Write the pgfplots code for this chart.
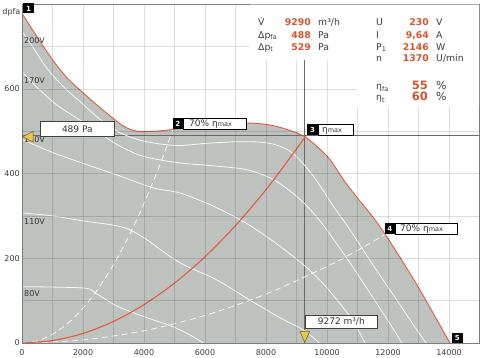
\documentclass[border=0pt]{standalone}
\usepackage{fontspec}
\setmainfont{DejaVu Sans}
\usepackage{pgfplots}
\pgfplotsset{compat=1.18}
\definecolor{fanfill}{RGB}{190,194,190}
\definecolor{fanred}{RGB}{226,92,62}
\definecolor{valred}{RGB}{214,84,44}
\definecolor{lbl}{RGB}{60,60,60}
\definecolor{framec}{RGB}{125,125,125}
\definecolor{markline}{RGB}{105,105,105}
\definecolor{yel}{RGB}{232,200,70}
\definecolor{yeld}{RGB}{110,95,30}
\begin{document}
\begin{tikzpicture}
\path[use as bounding box] (0pt,0pt) rectangle (500pt,357pt);
\begin{axis}[
 at={(22pt,14pt)}, anchor=south west, scale only axis, width=457.5pt, height=339pt,
 xmin=0,xmax=15000,ymin=0,ymax=800,
 axis on top,
 xtick={0,2000,...,14000}, minor xtick={1000,3000,...,13000},
 ytick={0,200,400,600}, minor ytick={100,300,500,700},
 grid=both, grid style={black, opacity=0.13, line width=0.5pt},
 minor grid style={black,opacity=0.13,line width=0.5pt},
 major tick length=0pt, minor tick length=0pt,
 axis line style={framec, line width=0.9pt},
 tick label style={font=\fontsize{8}{9}\selectfont, text=lbl},
 /pgf/number format/assume math mode=true,
 /pgf/number format/set thousands separator={},
 scaled x ticks=false,
 xticklabel style={yshift=-3pt},
 yticklabel style={xshift=1.3pt},
]
% envelope fill
\addplot[fill=fanfill, draw=none, smooth] coordinates {
(0,778)(300,744)(600,711)(1027,666)(1500,624)(2120,583)(2600,553)(2995,530)(3300,513)(3600,503)(3900,499)(4400,500)(4950,504)(5500,509)(6000,512)(7000,518)(7475,519)(8000,516)(8460,509)(9006,496)(9333,484)(9700,462)(10098,433)(10535,386)(11000,342)(11500,298)(11902,257)(12500,190)(13000,131)(13500,68)(14030,0)} \closedcycle;
% reference lines
\addplot[markline, line width=0.7pt] coordinates {(0,489)(15000,489)};
\addplot[markline, line width=0.7pt] coordinates {(9272,0)(9272,800)};
% speed curves
\addplot[white!94!gray, line width=0.8pt, smooth] coordinates {
(0,735)(300,705)(700,660)(1027,630)(1500,595)(1900,570)(2557,528)(3200,497)(3800,480)(4500,470)(5180,466)(6000,471)(7039,475)(7800,474)(8350,467)(8896,447)(9551,394)(10207,323)(10754,267)(11500,185)(12300,100)(13000,25)(13250,0)};
\addplot[white!94!gray, line width=0.8pt, smooth] coordinates {
(0,640)(500,603)(1000,570)(1354,551)(1900,526)(2500,497)(3200,465)(4000,440)(5180,425)(6300,418)(7367,409)(8240,386)(9006,346)(9551,307)(9990,267)(10700,195)(11500,108)(12200,30)(12450,0)};
\addplot[white!94!gray, line width=0.8pt, smooth] coordinates {
(0,480)(1027,449)(2120,421)(3213,394)(4306,366)(5180,354)(6272,323)(7148,291)(7695,267)(8500,226)(9334,178)(10000,130)(10754,62)(11250,0)};
\addplot[white!94!gray, line width=0.8pt, smooth] coordinates {
(0,307)(1000,300)(2010,288)(3000,278)(3541,267)(4088,244)(4700,212)(5290,185)(6383,149)(7500,100)(8500,58)(9223,31)(9750,0)};
\addplot[white!94!gray, line width=0.8pt, smooth] coordinates {
(0,133)(1000,132)(2120,129)(2450,116)(3150,86)(4088,60)(4900,40)(5508,19)(5950,0)};
% efficiency parabolas (dashed)
\addplot[white!94!gray, line width=0.8pt, dash pattern=on 6pt off 4pt, smooth] coordinates {
(0,0)(500,5.1)(1000,20.6)(1500,46.3)(2000,82.3)(2500,128.6)(3000,185.1)(3500,252)(4000,329)(4500,416.6)(4950,504)};
\addplot[white!94!gray, line width=0.8pt, dash pattern=on 6pt off 4pt, smooth] coordinates {
(0,0)(2000,7.2)(4000,28.9)(6000,65)(8000,115.6)(10000,180.7)(11000,218.6)(11902,256)};
% system curve
\addplot[fanred, line width=1.1pt, smooth] coordinates {
(0,0)(1000,5.7)(2000,22.6)(3000,50.9)(4000,90.5)(5000,141.4)(6000,203.5)(7000,277)(8000,361.9)(9000,458)(9290,488)};
% envelope line
\addplot[fanred, line width=0.9pt, smooth] coordinates {
(0,778)(300,744)(600,711)(1027,666)(1500,624)(2120,583)(2600,553)(2995,530)(3300,513)(3600,503)(3900,499)(4400,500)(4950,504)(5500,509)(6000,512)(7000,518)(7475,519)(8000,516)(8460,509)(9006,496)(9333,484)(9700,462)(10098,433)(10535,386)(11000,342)(11500,298)(11902,257)(12500,190)(13000,131)(13500,68)(14030,0)};
\end{axis}
% info box
\fill[white] (250pt,352.4pt) -- (479pt,352.4pt) -- (479pt,250pt) -- (357pt,250pt) -- (357pt,297pt) -- (250pt,297pt) -- cycle;
\begin{scope}[every node/.style={inner sep=0pt, font=\fontsize{9.3}{11}\selectfont}]
\node[anchor=base west, text=lbl] at (258pt,331pt) {\.{V}};
\node[anchor=base east, text=valred, font=\fontsize{9.3}{11}\selectfont\bfseries] at (311pt,331pt) {9290};
\node[anchor=base west, text=lbl] at (318pt,331pt) {m³/h};
\node[anchor=base west, text=lbl] at (258pt,319pt) {Δp\textsubscript{fa}};
\node[anchor=base east, text=valred, font=\fontsize{9.3}{11}\selectfont\bfseries] at (311pt,319pt) {488};
\node[anchor=base west, text=lbl] at (318pt,319pt) {Pa};
\node[anchor=base west, text=lbl] at (258pt,307pt) {Δp\textsubscript{t}};
\node[anchor=base east, text=valred, font=\fontsize{9.3}{11}\selectfont\bfseries] at (311pt,307pt) {529};
\node[anchor=base west, text=lbl] at (318pt,307pt) {Pa};
\node[anchor=base west, text=lbl] at (376pt,331pt) {U};
\node[anchor=base east, text=valred, font=\fontsize{9.3}{11}\selectfont\bfseries] at (429pt,331pt) {230};
\node[anchor=base west, text=lbl] at (436pt,331pt) {V};
\node[anchor=base west, text=lbl] at (376pt,319pt) {I};
\node[anchor=base east, text=valred, font=\fontsize{9.3}{11}\selectfont\bfseries] at (429pt,319pt) {9,64};
\node[anchor=base west, text=lbl] at (436pt,319pt) {A};
\node[anchor=base west, text=lbl] at (376pt,307pt) {P\textsubscript{1}};
\node[anchor=base east, text=valred, font=\fontsize{9.3}{11}\selectfont\bfseries] at (429pt,307pt) {2146};
\node[anchor=base west, text=lbl] at (436pt,307pt) {W};
\node[anchor=base west, text=lbl] at (376pt,295pt) {n};
\node[anchor=base east, text=valred, font=\fontsize{9.3}{11}\selectfont\bfseries] at (429pt,295pt) {1370};
\node[anchor=base west, text=lbl] at (436pt,295pt) {U/min};
\node[anchor=base west, text=lbl] at (376pt,267.7pt) {η\textsubscript{fa}};
\node[anchor=base east, text=valred, font=\fontsize{11.5}{13}\selectfont\bfseries] at (428pt,267.7pt) {55};
\node[anchor=base west, text=lbl, font=\fontsize{11}{13}\selectfont] at (436pt,267.7pt) {\%};
\node[anchor=base west, text=lbl] at (376pt,256.3pt) {η\textsubscript{t}};
\node[anchor=base east, text=valred, font=\fontsize{11.5}{13}\selectfont\bfseries] at (428pt,256.3pt) {60};
\node[anchor=base west, text=lbl, font=\fontsize{11}{13}\selectfont] at (436pt,256.3pt) {\%};
\end{scope}
% y axis title
\node[anchor=base east, inner sep=0pt, text=lbl, font=\fontsize{8}{9}\selectfont] at (20.5pt,342pt) {dpfa};
% voltage labels
\begin{scope}[every node/.style={anchor=west, inner sep=0pt, text=lbl!90!black, font=\fontsize{8}{9}\selectfont}]
\node at (24pt,316.5pt) {200V};
\node at (24pt,276pt) {170V};
\node at (24pt,217.5pt) {140V};
\node at (24pt,135.5pt) {110V};
\node at (24pt,63pt) {80V};
\end{scope}
% triangles
\filldraw[fill=yel, draw=yeld, line width=0.5pt] (22.8pt,220.3pt) -- (33pt,225.5pt) -- (33pt,215pt) -- cycle;
\filldraw[fill=yel, draw=yeld, line width=0.5pt] (304.8pt,14.6pt) -- (300pt,25.5pt) -- (309.6pt,25.5pt) -- cycle;
% label boxes
\begin{scope}[every node/.style={inner sep=0pt, font=\fontsize{9}{10}\selectfont, text=black!80}]
\filldraw[fill=white, draw=black!75, line width=0.6pt] (40.7pt,220.3pt) rectangle (114pt,235.3pt);
\node at (77.3pt,227.8pt) {489 Pa};
\filldraw[fill=white, draw=black!75, line width=0.6pt] (305pt,29pt) rectangle (377.7pt,42pt);
\node at (341.3pt,35.5pt) {9272 m³/h};
\filldraw[fill=white, draw=black, line width=0.6pt] (183pt,228pt) rectangle (246pt,239pt);
\node[anchor=base west] at (189pt,230.3pt) {70\% η{\fontsize{6.5}{7}\selectfont max}};
\filldraw[fill=white, draw=black, line width=0.6pt] (318pt,222pt) rectangle (353pt,233pt);
\node[anchor=base west] at (322pt,224.3pt) {η{\fontsize{6.5}{7}\selectfont max}};
\filldraw[fill=white, draw=black, line width=0.6pt] (395pt,123pt) rectangle (457pt,134pt);
\node[anchor=base west] at (400pt,125.3pt) {70\% η{\fontsize{6.5}{7}\selectfont max}};
\end{scope}
\begin{scope}[every node/.style={inner sep=0pt, text=white, font=\fontsize{7}{8}\selectfont\bfseries}]
\fill[black] (23.3pt,343.5pt) rectangle (34pt,353.5pt); \node at (28.6pt,348.5pt) {1};
\fill[black] (172.5pt,228pt) rectangle (183pt,239pt); \node at (177.8pt,233.5pt) {2};
\fill[black] (307pt,222pt) rectangle (318pt,233pt); \node at (312.5pt,227.5pt) {3};
\fill[black] (384.5pt,123pt) rectangle (395pt,134pt); \node at (389.8pt,128.5pt) {4};
\fill[black] (451.7pt,14pt) rectangle (462.7pt,24.3pt); \node at (457.2pt,19.2pt) {5};
\end{scope}
\end{tikzpicture}
\end{document}
